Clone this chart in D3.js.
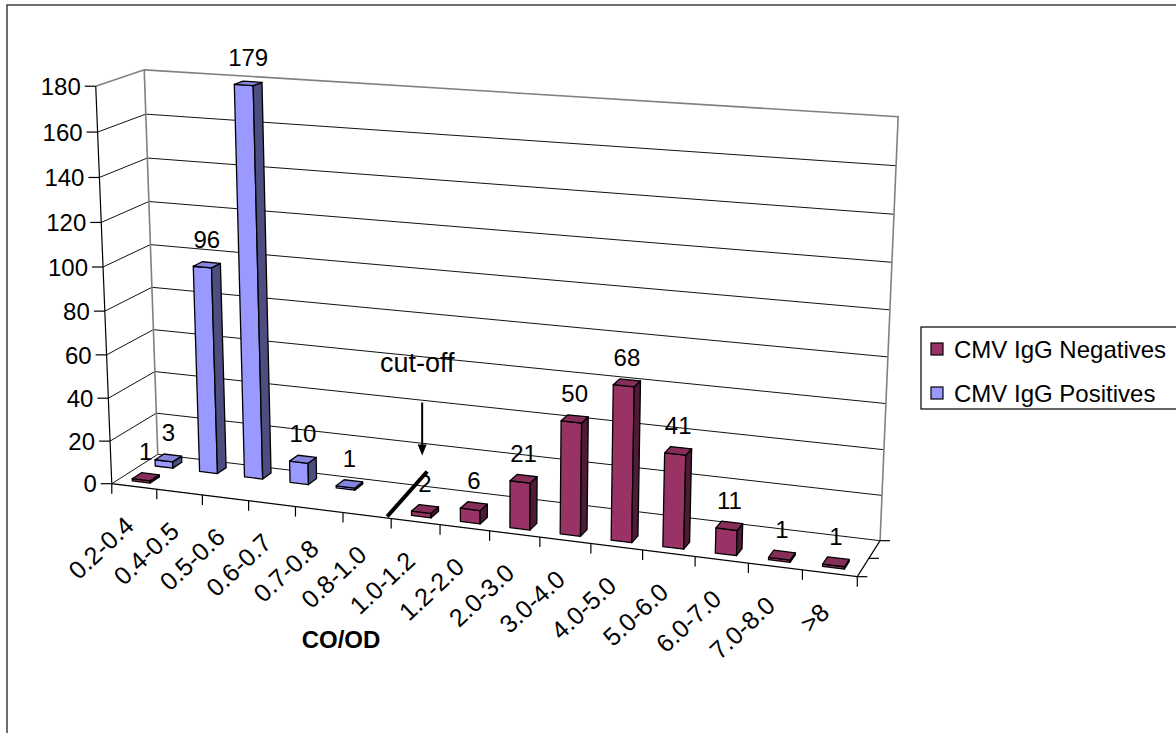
<!DOCTYPE html>
<html>
<head>
<meta charset="utf-8">
<script src="https://cdn.jsdelivr.net/npm/d3@7"></script>
<style>
  html, body { margin: 0; padding: 0; background: #fff; }
  svg { display: block; font-family: "Liberation Sans", Arial, sans-serif; }
</style>
</head>
<body>
<svg id="chart" width="1176" height="733"></svg>
<script>
// ---- data ----
const categories = ["0.2-0.4", "0.4-0.5", "0.5-0.6", "0.6-0.7", "0.7-0.8", "0.8-1.0", "1.0-1.2",
                    "1.2-2.0", "2.0-3.0", "3.0-4.0", "4.0-5.0", "5.0-6.0", "6.0-7.0", "7.0-8.0", ">8"];
const seriesNames = ["CMV IgG Negatives", "CMV IgG Positives"];
const negatives = [1, null, null, null, null, null, 2, 6, 21, 50, 68, 41, 11, 1, 1];
const positives = [3, 96, 179, 10, 1, null, null, null, null, null, null, null, null, null, null];
const yTicks = [0, 20, 40, 60, 80, 100, 120, 140, 160, 180];
const axisTitle = "CO/OD";
const cutoffLabel = "cut-off";
const cutoffBoundary = "1.0-1.2";   // threshold drawn at the left edge of this class

const seriesValues = [negatives, positives];
const seriesColors = [
  { front: "#993366", side: "#4e1a35", top: "#862d59" },
  { front: "#9999ff", side: "#4d4d80", top: "#8686df" }
];

// ---- 3D box: X along categories (0..15), Y up (0..15), Z into depth (0..2) ----
const W = categories.length, H = 15, D = seriesNames.length;
const x = d3.scaleBand().domain(categories).range([0, W]).paddingInner(0.6).paddingOuter(0.3);
const z = d3.scaleBand().domain(seriesNames).range([0, D]).paddingInner(0.6).paddingOuter(0.3);
const y = d3.scaleLinear().domain([0, 180]).range([0, H]);

// Perspective camera solved from the box corners on screen (direct linear transform)
function fitCamera(pairs) {
  const rows = [], rhs = [];
  pairs.forEach(([w, s]) => {
    const [X, Y, Z] = w, u = s[0] / 100, v = s[1] / 100;
    rows.push([X, Y, Z, 1, 0, 0, 0, 0, -u * X, -u * Y, -u * Z]); rhs.push(u);
    rows.push([0, 0, 0, 0, X, Y, Z, 1, -v * X, -v * Y, -v * Z]); rhs.push(v);
  });
  const n = 11;
  const M = Array.from({ length: n }, () => new Array(n + 1).fill(0));
  rows.forEach((r, k) => {
    for (let i = 0; i < n; i++) {
      for (let j = 0; j < n; j++) M[i][j] += r[i] * r[j];
      M[i][n] += r[i] * rhs[k];
    }
  });
  for (let c = 0; c < n; c++) {
    let p = c;
    for (let r = c + 1; r < n; r++) if (Math.abs(M[r][c]) > Math.abs(M[p][c])) p = r;
    [M[c], M[p]] = [M[p], M[c]];
    for (let r = 0; r < n; r++) {
      if (r === c) continue;
      const f = M[r][c] / M[c][c];
      for (let j = c; j <= n; j++) M[r][j] -= f * M[c][j];
    }
  }
  const p = M.map((row, i) => row[n] / row[i]);
  return (X, Y, Z) => {
    const w = p[8] * X + p[9] * Y + p[10] * Z + 1;
    return [100 * (p[0] * X + p[1] * Y + p[2] * Z + p[3]) / w,
            100 * (p[4] * X + p[5] * Y + p[6] * Z + p[7]) / w];
  };
}

const proj = fitCamera([
  [[0, 0, 0], [111.7, 483.3]],
  [[W, 0, 0], [858, 577]],
  [[0, 0, D], [158, 455]],
  [[W, 0, D], [880, 540]],
  [[0, H, D], [144, 69]],
  [[W, H, D], [898, 117]],
  [[0, H, 0], [96, 86.5]],
  [[W, y(100), D], [890, 310]],
  [[0, y(100), D], [150.5, 245]],
  [[5, 0, 0], [343, 512.4]],
  [[10, 0, 0], [590, 543.4]]
]);

const P = pts => pts.map(p => proj(p[0], p[1], p[2]));
const line = d3.line();
const poly = pts => line(P(pts)) + "Z";

const svg = d3.select("#chart");

// outer chart frame
svg.append("rect").attr("x", 7).attr("y", 5).attr("width", 1200).attr("height", 760)
  .attr("fill", "#fff").attr("stroke", "#222").attr("stroke-width", 1.3);

const g = svg.append("g");

// walls and floor
[[[0, 0, D], [W, 0, D], [W, H, D], [0, H, D]],
 [[0, 0, 0], [0, 0, D], [0, H, D], [0, H, 0]],
 [[0, 0, 0], [W, 0, 0], [W, 0, D], [0, 0, D]]]
  .forEach(f => g.append("path").attr("d", poly(f)).attr("fill", "#fff"));

// gridlines across side wall and back wall
g.append("g").selectAll("path").data(yTicks.filter(t => t < 180)).join("path")
  .attr("d", t => line(P([[0, y(t), 0], [0, y(t), D], [W, y(t), D]])))
  .attr("fill", "none").attr("stroke", "#111").attr("stroke-width", 1);

// wall outline
g.append("path").attr("d", line(P([[0, H, 0], [0, H, D], [W, H, D], [W, 0, D]])))
  .attr("fill", "none").attr("stroke", "#808080").attr("stroke-width", 1.6);
g.append("path").attr("d", line(P([[0, 0, D], [0, H, D]])))
  .attr("fill", "none").attr("stroke", "#808080").attr("stroke-width", 1.6);

// axes lines
g.append("path").attr("d", line(P([[0, H, 0], [0, 0, 0], [W, 0, 0], [W, 0, D]])))
  .attr("fill", "none").attr("stroke", "#000").attr("stroke-width", 1.2);

// value axis ticks and labels
const yAx = g.append("g");
yTicks.forEach(t => {
  const [px, py] = proj(0, y(t), 0);
  yAx.append("line").attr("x1", px - 11).attr("x2", px).attr("y1", py).attr("y2", py)
    .attr("stroke", "#000").attr("stroke-width", 1.2);
  yAx.append("text").attr("x", px - 15).attr("y", py).attr("dy", "0.36em")
    .attr("text-anchor", "end").attr("font-size", 24).text(t);
});

// category ticks (class boundaries) and labels
const xAx = g.append("g");
d3.range(W + 1).forEach(k => {
  const [px, py] = proj(k, 0, 0);
  xAx.append("line").attr("x1", px).attr("x2", px).attr("y1", py).attr("y2", py + 10)
    .attr("stroke", "#000").attr("stroke-width", 1.2);
});
categories.forEach((c, i) => {
  const [px, py] = proj(x(c) + x.bandwidth() / 2, 0, 0);
  xAx.append("text")
    .attr("transform", `translate(${px - 11},${py + 28}) rotate(-43)`)
    .attr("dy", "0.72em").attr("text-anchor", "end").attr("font-size", 25).text(c);
});

// series axis ticks on the right edge of the floor
d3.range(D + 1).forEach(k => {
  const [px, py] = proj(W, 0, k);
  g.append("line").attr("x1", px).attr("x2", px + 10).attr("y1", py).attr("y2", py)
    .attr("stroke", "#000").attr("stroke-width", 1.2);
});

// columns: back row first, then left to right
const bars = g.append("g");
const labels = [];
for (let s = D - 1; s >= 0; s--) {
  const vals = seriesValues[s], col = seriesColors[s];
  const z0 = z(seriesNames[s]), z1 = z0 + z.bandwidth();
  categories.forEach((c, i) => {
    const v = vals[i];
    if (v == null) return;
    const x0 = x(c), x1 = x0 + x.bandwidth(), h = y(v);
    const faces = [
      { pts: [[x0, 0, z0], [x1, 0, z0], [x1, h, z0], [x0, h, z0]], fill: col.front },
      { pts: [[x1, 0, z0], [x1, 0, z1], [x1, h, z1], [x1, h, z0]], fill: col.side },
      { pts: [[x0, h, z0], [x1, h, z0], [x1, h, z1], [x0, h, z1]], fill: col.top }
    ];
    const bg = bars.append("g");
    faces.forEach(f => bg.append("path").attr("d", poly(f.pts)).attr("fill", f.fill)
      .attr("stroke", "#000").attr("stroke-width", 1.3).attr("stroke-linejoin", "round"));
    const [lx, ly] = proj((x0 + x1) / 2, h, (z0 + z1) / 2);
    labels.push({ lx, ly, v });
  });
}

// value labels
g.append("g").selectAll("text").data(labels).join("text")
  .attr("x", d => d.lx).attr("y", d => d.ly - 17)
  .attr("text-anchor", "middle").attr("font-size", 24).text(d => d.v);

// threshold marker
const [cx, cy] = proj(x(cutoffBoundary) - (x.step() - x.bandwidth()) / 2, 0, 0);
g.append("line").attr("x1", cx - 4).attr("y1", cy - 2).attr("x2", cx + 36).attr("y2", cy - 47)
  .attr("stroke", "#000").attr("stroke-width", 4);
g.append("line").attr("x1", cx + 31).attr("y1", cy - 116).attr("x2", cx + 31).attr("y2", cy - 72)
  .attr("stroke", "#000").attr("stroke-width", 2);
g.append("path")
  .attr("d", `M${cx + 26.5},${cy - 74}L${cx + 35.5},${cy - 74}L${cx + 31},${cy - 63}Z`)
  .attr("fill", "#000");
g.append("text").attr("x", cx + 26).attr("y", cy - 147).attr("text-anchor", "middle")
  .attr("font-size", 27).text(cutoffLabel);

// axis title
svg.append("text").attr("x", 341).attr("y", 648).attr("text-anchor", "middle")
  .attr("font-size", 24).attr("font-weight", "bold").text(axisTitle);

// legend
const lg = svg.append("g");
lg.append("rect").attr("x", 921).attr("y", 327).attr("width", 270).attr("height", 82)
  .attr("fill", "#fff").attr("stroke", "#000").attr("stroke-width", 1.2);
seriesNames.forEach((name, k) => {
  const yy = 343 + k * 44;
  lg.append("rect").attr("x", 931).attr("y", yy).attr("width", 12).attr("height", 12)
    .attr("fill", seriesColors[k].front).attr("stroke", "#000").attr("stroke-width", 1.2);
  lg.append("text").attr("x", 954).attr("y", yy + 15).attr("font-size", 24).text(name);
});
</script>
</body>
</html>
